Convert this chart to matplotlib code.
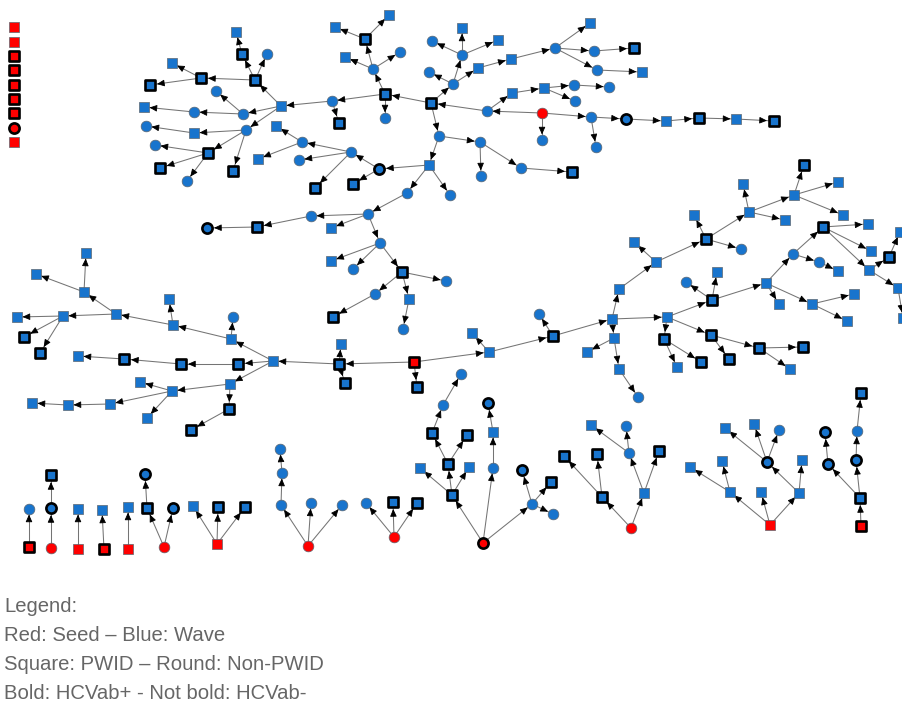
import numpy as np
import matplotlib
matplotlib.use("Agg")
import matplotlib.pyplot as plt

# Each node: (name, x_px, y_px, shape, role, hcv_positive, parent)
# shape: "sq" = PWID (square), "ci" = Non-PWID (round); role: "S" seed (red), "W" wave (blue)

isolated_seeds = [
    ("i1", 14, 27, "sq", "S", 0, None),
    ("i2", 14, 42, "sq", "S", 0, None),
    ("i3", 14, 56, "sq", "S", 1, None),
    ("i4", 14, 70, "sq", "S", 1, None),
    ("i5", 14, 85, "sq", "S", 1, None),
    ("i6", 14, 99, "sq", "S", 1, None),
    ("i7", 14, 113, "sq", "S", 1, None),
    ("i8", 14, 128, "ci", "S", 1, None),
    ("i9", 14, 142, "sq", "S", 0, None),
]

tree_top = [
    ("R1", 542, 113, "ci", "S", 0, None),
    ("a1", 487, 111, "ci", "W", 0, "R1"),
    ("a2", 542, 140, "ci", "W", 0, "R1"),
    ("a3", 591, 117, "ci", "W", 0, "R1"),
    ("a4", 626, 119, "ci", "W", 1, "a3"),
    ("a5", 596, 147, "ci", "W", 0, "a3"),
    ("a6", 666, 121, "sq", "W", 0, "a4"),
    ("a7", 699, 118, "sq", "W", 1, "a6"),
    ("a8", 736, 119, "sq", "W", 0, "a7"),
    ("a9", 774, 121, "sq", "W", 1, "a8"),
    ("b1", 512, 93, "sq", "W", 0, "a1"),
    ("b2", 544, 88, "sq", "W", 0, "b1"),
    ("b3", 574, 85, "ci", "W", 0, "b2"),
    ("b4", 609, 87, "ci", "W", 0, "b3"),
    ("b5", 575, 101, "ci", "W", 0, "b2"),
    ("c0", 431, 103, "sq", "W", 1, "a1"),
    ("c1", 453, 84, "ci", "W", 0, "c0"),
    ("c2", 429, 72, "ci", "W", 0, "c1"),
    ("c3", 462, 55, "ci", "W", 0, "c1"),
    ("c4", 462, 28, "sq", "W", 0, "c3"),
    ("c5", 498, 40, "sq", "W", 0, "c3"),
    ("c6", 432, 41, "ci", "W", 0, "c3"),
    ("c7", 478, 68, "sq", "W", 0, "c1"),
    ("c8", 511, 59, "sq", "W", 0, "c7"),
    ("c9", 555, 48, "ci", "W", 0, "c8"),
    ("c10", 590, 23, "sq", "W", 0, "c9"),
    ("c11", 594, 51, "ci", "W", 0, "c9"),
    ("c12", 634, 48, "sq", "W", 1, "c11"),
    ("c13", 597, 70, "ci", "W", 0, "c9"),
    ("c14", 642, 72, "sq", "W", 0, "c13"),
    ("d0", 385, 94, "sq", "W", 1, "c0"),
    ("d1", 385, 118, "ci", "W", 0, "d0"),
    ("d2", 373, 69, "ci", "W", 0, "d0"),
    ("d3", 345, 57, "sq", "W", 0, "d2"),
    ("d4", 400, 52, "ci", "W", 0, "d2"),
    ("d5", 365, 39, "sq", "W", 1, "d2"),
    ("d6", 335, 27, "sq", "W", 0, "d5"),
    ("d7", 389, 15, "sq", "W", 0, "d5"),
    ("e0", 332, 101, "ci", "W", 0, "d0"),
    ("e1", 339, 123, "sq", "W", 1, "e0"),
    ("H", 281, 106, "sq", "W", 0, "e0"),
    ("f1", 255, 80, "sq", "W", 1, "H"),
    ("f2", 242, 54, "sq", "W", 1, "f1"),
    ("f3", 236, 32, "sq", "W", 0, "f2"),
    ("f4", 267, 54, "ci", "W", 0, "f1"),
    ("f5", 201, 78, "sq", "W", 1, "f1"),
    ("f6", 172, 63, "sq", "W", 0, "f5"),
    ("f7", 150, 85, "sq", "W", 1, "f5"),
    ("g1", 243, 114, "ci", "W", 0, "H"),
    ("g2", 216, 91, "ci", "W", 0, "g1"),
    ("g3", 194, 112, "ci", "W", 0, "g1"),
    ("g4", 144, 107, "sq", "W", 0, "g3"),
    ("h1", 246, 130, "ci", "W", 0, "H"),
    ("h2", 194, 133, "sq", "W", 0, "h1"),
    ("h3", 146, 126, "ci", "W", 0, "h2"),
    ("h4", 208, 153, "sq", "W", 1, "h1"),
    ("h5", 155, 145, "ci", "W", 0, "h4"),
    ("h6", 160, 168, "sq", "W", 1, "h4"),
    ("h7", 187, 181, "ci", "W", 0, "h4"),
    ("h8", 233, 171, "sq", "W", 1, "h1"),
    ("j0", 439, 136, "ci", "W", 0, "c0"),
    ("j1", 480, 142, "ci", "W", 0, "j0"),
    ("j2", 481, 176, "ci", "W", 0, "j1"),
    ("j3", 521, 168, "ci", "W", 0, "j1"),
    ("j4", 572, 172, "sq", "W", 1, "j3"),
    ("k0", 429, 165, "sq", "W", 0, "j0"),
    ("k1", 379, 169, "ci", "W", 1, "k0"),
    ("k2", 351, 152, "ci", "W", 0, "k1"),
    ("k3", 302, 142, "ci", "W", 0, "k2"),
    ("k4", 276, 126, "sq", "W", 0, "k3"),
    ("k5", 258, 159, "sq", "W", 0, "k3"),
    ("k6", 299, 160, "ci", "W", 0, "k2"),
    ("k7", 315, 188, "sq", "W", 1, "k2"),
    ("k8", 353, 184, "sq", "W", 1, "k1"),
    ("l0", 407, 193, "ci", "W", 0, "k0"),
    ("l1", 450, 195, "ci", "W", 0, "k0"),
    ("m0", 368, 214, "ci", "W", 0, "l0"),
    ("m1", 311, 216, "ci", "W", 0, "m0"),
    ("m2", 257, 227, "sq", "W", 1, "m1"),
    ("m3", 207, 228, "ci", "W", 1, "m2"),
    ("m4", 331, 228, "sq", "W", 0, "m0"),
    ("n0", 380, 243, "ci", "W", 0, "m0"),
    ("n1", 331, 261, "sq", "W", 0, "n0"),
    ("n2", 353, 269, "ci", "W", 0, "n0"),
    ("n3", 402, 272, "sq", "W", 1, "n0"),
    ("n4", 446, 281, "ci", "W", 0, "n3"),
    ("n5", 375, 294, "ci", "W", 0, "n3"),
    ("n6", 333, 317, "sq", "W", 1, "n5"),
    ("n7", 409, 299, "sq", "W", 0, "n3"),
    ("n8", 403, 329, "ci", "W", 0, "n7"),
]

tree_mid = [
    ("R2", 414, 362, "sq", "S", 1, None),
    ("p0", 339, 364, "sq", "W", 1, "R2"),
    ("p1", 341, 344, "sq", "W", 0, "p0"),
    ("p2", 345, 383, "sq", "W", 1, "p0"),
    ("p3", 417, 387, "sq", "W", 1, "R2"),
    ("P", 273, 361, "sq", "W", 0, "p0"),
    ("q1", 231, 339, "sq", "W", 0, "P"),
    ("q2", 233, 317, "ci", "W", 0, "q1"),
    ("q3", 173, 325, "sq", "W", 0, "q1"),
    ("q4", 169, 299, "sq", "W", 0, "q3"),
    ("q5", 116, 314, "sq", "W", 0, "q3"),
    ("q6", 63, 316, "sq", "W", 0, "q5"),
    ("q7", 17, 317, "sq", "W", 0, "q6"),
    ("q8", 24, 337, "sq", "W", 1, "q6"),
    ("q9", 40, 353, "sq", "W", 1, "q6"),
    ("q10", 84, 292, "sq", "W", 0, "q5"),
    ("q11", 86, 253, "sq", "W", 0, "q10"),
    ("q12", 36, 274, "sq", "W", 0, "q10"),
    ("r1", 238, 364, "sq", "W", 1, "P"),
    ("r2", 181, 364, "sq", "W", 1, "r1"),
    ("r3", 124, 359, "sq", "W", 1, "r2"),
    ("r4", 78, 356, "sq", "W", 0, "r3"),
    ("s1", 230, 384, "sq", "W", 0, "P"),
    ("s2", 172, 391, "sq", "W", 0, "s1"),
    ("s3", 140, 382, "sq", "W", 0, "s2"),
    ("s4", 147, 418, "sq", "W", 0, "s2"),
    ("s5", 110, 404, "sq", "W", 0, "s2"),
    ("s6", 68, 405, "sq", "W", 0, "s5"),
    ("s7", 32, 403, "sq", "W", 0, "s6"),
    ("s8", 229, 409, "sq", "W", 1, "s1"),
    ("s9", 191, 430, "sq", "W", 1, "s8"),
    ("t1", 489, 352, "sq", "W", 0, "R2"),
    ("t2", 472, 333, "sq", "W", 0, "t1"),
    ("t3", 553, 336, "sq", "W", 1, "t1"),
    ("t4", 539, 314, "ci", "W", 0, "t3"),
    ("T", 612, 319, "sq", "W", 0, "t3"),
    ("u1", 619, 289, "sq", "W", 0, "T"),
    ("u2", 656, 262, "sq", "W", 0, "u1"),
    ("u3", 634, 242, "sq", "W", 0, "u2"),
    ("v0", 706, 239, "sq", "W", 1, "u2"),
    ("v1", 694, 215, "sq", "W", 0, "v0"),
    ("v2", 741, 249, "ci", "W", 0, "v0"),
    ("v3", 749, 212, "sq", "W", 0, "v0"),
    ("v4", 743, 184, "sq", "W", 0, "v3"),
    ("v5", 785, 220, "sq", "W", 0, "v3"),
    ("v6", 794, 195, "sq", "W", 0, "v3"),
    ("v7", 804, 165, "sq", "W", 1, "v6"),
    ("v8", 838, 182, "sq", "W", 0, "v6"),
    ("v9", 843, 215, "sq", "W", 0, "v6"),
    ("w1", 614, 338, "sq", "W", 0, "T"),
    ("w2", 587, 352, "sq", "W", 0, "w1"),
    ("w3", 619, 369, "sq", "W", 0, "w1"),
    ("w4", 638, 397, "ci", "W", 0, "w3"),
    ("U", 667, 317, "sq", "W", 0, "T"),
    ("x1", 712, 300, "sq", "W", 1, "U"),
    ("x2", 717, 272, "sq", "W", 0, "x1"),
    ("x3", 686, 282, "ci", "W", 0, "x1"),
    ("x4", 766, 283, "sq", "W", 0, "x1"),
    ("x5", 779, 304, "sq", "W", 0, "x4"),
    ("x6", 812, 304, "sq", "W", 0, "x4"),
    ("x7", 854, 294, "sq", "W", 0, "x6"),
    ("x8", 847, 321, "sq", "W", 0, "x6"),
    ("x9", 793, 254, "ci", "W", 0, "x4"),
    ("x10", 819, 262, "ci", "W", 0, "x9"),
    ("x11", 838, 271, "sq", "W", 0, "x10"),
    ("x12", 823, 227, "sq", "W", 1, "x9"),
    ("x13", 868, 224, "sq", "W", 0, "x12"),
    ("x14", 871, 251, "sq", "W", 0, "x12"),
    ("x15", 869, 270, "sq", "W", 0, "x12"),
    ("x16", 889, 257, "sq", "W", 1, "x15"),
    ("x17", 900, 232, "sq", "W", 0, "x16"),
    ("x18", 898, 288, "sq", "W", 0, "x15"),
    ("x19", 903, 318, "sq", "W", 0, "x18"),
    ("y1", 664, 339, "sq", "W", 1, "U"),
    ("y2", 677, 367, "sq", "W", 0, "y1"),
    ("y3", 701, 362, "sq", "W", 1, "y1"),
    ("y4", 711, 335, "sq", "W", 1, "U"),
    ("y5", 729, 359, "sq", "W", 1, "y4"),
    ("y6", 759, 348, "sq", "W", 1, "y4"),
    ("y7", 803, 347, "sq", "W", 1, "y6"),
    ("y8", 790, 369, "sq", "W", 0, "y6"),
]

small_trees = [
    ("z1", 29, 547, "sq", "S", 1, None),
    ("z1a", 29, 509, "ci", "W", 0, "z1"),
    ("z2", 51, 548, "ci", "S", 0, None),
    ("z2a", 51, 508, "ci", "W", 1, "z2"),
    ("z2b", 51, 475, "sq", "W", 1, "z2a"),
    ("z3", 78, 549, "sq", "S", 0, None),
    ("z3a", 78, 509, "sq", "W", 0, "z3"),
    ("z4", 104, 549, "sq", "S", 1, None),
    ("z4a", 102, 510, "sq", "W", 0, "z4"),
    ("z5", 128, 549, "sq", "S", 0, None),
    ("z5a", 128, 507, "sq", "W", 0, "z5"),
    ("z6", 164, 547, "ci", "S", 0, None),
    ("z6a", 147, 508, "sq", "W", 1, "z6"),
    ("z6b", 145, 474, "ci", "W", 1, "z6a"),
    ("z6c", 173, 508, "ci", "W", 1, "z6"),
    ("z7", 217, 544, "sq", "S", 0, None),
    ("z7a", 193, 506, "sq", "W", 0, "z7"),
    ("z7b", 218, 507, "sq", "W", 1, "z7"),
    ("z7c", 245, 507, "sq", "W", 1, "z7"),
    ("z8", 308, 546, "ci", "S", 0, None),
    ("z8a", 281, 505, "ci", "W", 0, "z8"),
    ("z8b", 282, 473, "ci", "W", 0, "z8a"),
    ("z8c", 280, 449, "ci", "W", 0, "z8b"),
    ("z8d", 311, 503, "ci", "W", 0, "z8"),
    ("z8e", 342, 505, "ci", "W", 0, "z8"),
    ("z9", 394, 537, "ci", "S", 0, None),
    ("z9a", 366, 503, "ci", "W", 0, "z9"),
    ("z9b", 393, 502, "sq", "W", 1, "z9"),
    ("z9c", 417, 503, "sq", "W", 1, "z9"),
]

tree_low = [
    ("Z10", 483, 543, "ci", "S", 1, None),
    ("aa1", 452, 495, "sq", "W", 1, "Z10"),
    ("aa2", 448, 464, "sq", "W", 1, "aa1"),
    ("aa3", 432, 433, "sq", "W", 1, "aa2"),
    ("aa4", 443, 405, "ci", "W", 0, "aa3"),
    ("aa5", 461, 374, "ci", "W", 0, "aa4"),
    ("aa6", 420, 468, "sq", "W", 0, "aa1"),
    ("aa7", 469, 467, "sq", "W", 0, "aa1"),
    ("aa8", 467, 435, "sq", "W", 1, "aa2"),
    ("ab1", 493, 468, "ci", "W", 0, "Z10"),
    ("ab2", 493, 432, "sq", "W", 0, "ab1"),
    ("ab3", 488, 403, "ci", "W", 1, "ab2"),
    ("ac1", 532, 504, "ci", "W", 0, "Z10"),
    ("ac2", 522, 470, "ci", "W", 1, "ac1"),
    ("ac3", 551, 482, "sq", "W", 1, "ac1"),
    ("ac4", 553, 514, "ci", "W", 0, "ac1"),
    ("Z11", 631, 528, "ci", "S", 0, None),
    ("ad1", 602, 497, "sq", "W", 1, "Z11"),
    ("ad2", 564, 456, "sq", "W", 1, "ad1"),
    ("ad3", 597, 454, "sq", "W", 1, "ad1"),
    ("ae1", 644, 493, "sq", "W", 0, "Z11"),
    ("ae2", 629, 453, "ci", "W", 0, "ae1"),
    ("ae3", 591, 425, "sq", "W", 0, "ae2"),
    ("ae4", 626, 426, "ci", "W", 0, "ae2"),
    ("ae5", 659, 451, "sq", "W", 1, "ae1"),
    ("Z12", 770, 525, "sq", "S", 0, None),
    ("af1", 730, 492, "sq", "W", 0, "Z12"),
    ("af2", 690, 467, "sq", "W", 0, "af1"),
    ("af3", 722, 461, "sq", "W", 0, "af1"),
    ("af4", 761, 492, "sq", "W", 0, "Z12"),
    ("ag1", 799, 493, "sq", "W", 0, "Z12"),
    ("ag2", 767, 462, "ci", "W", 1, "ag1"),
    ("ag3", 725, 428, "sq", "W", 0, "ag2"),
    ("ag4", 754, 424, "sq", "W", 0, "ag2"),
    ("ag5", 779, 430, "ci", "W", 0, "ag2"),
    ("ag6", 802, 460, "sq", "W", 0, "ag1"),
    ("Z13", 861, 526, "sq", "S", 1, None),
    ("ah1", 860, 498, "sq", "W", 1, "Z13"),
    ("ah2", 828, 464, "ci", "W", 1, "ah1"),
    ("ah3", 825, 432, "ci", "W", 1, "ah2"),
    ("ah4", 856, 460, "ci", "W", 1, "ah1"),
    ("ah5", 857, 431, "ci", "W", 0, "ah4"),
    ("ah6", 861, 393, "sq", "W", 1, "ah5"),
]

legend_lines = [
    "Legend:",
    "Red: Seed \u2013 Blue: Wave",
    "Square: PWID \u2013 Round: Non-PWID",
    "Bold: HCVab+ - Not bold: HCVab-",
]

# ---------------------------------------------------------------
nodes = isolated_seeds + tree_top + tree_mid + small_trees + tree_low
pos = {n[0]: (n[1], n[2]) for n in nodes}

W, H_ = 902, 703
fig = plt.figure(figsize=(W / 100, H_ / 100), dpi=100)
ax = fig.add_axes([0, 0, 1, 1])
ax.set_xlim(0, W)
ax.set_ylim(H_, 0)
ax.axis("off")

BLUE = "#1874CD"
RED = "#FF0000"

# edges
for name, x, y, shape, role, hcv, parent in nodes:
    if parent is None:
        continue
    px, py = pos[parent]
    ax.plot([px, x], [py, y], color="#747474", lw=0.75, zorder=1,
            solid_capstyle="butt")
    d = np.array([x - px, y - py], dtype=float)
    d /= np.hypot(*d)
    r = 7.0 if hcv else 5.5
    tip = np.array([x, y]) - d * r
    start = tip - d * 6
    ax.annotate("", xy=tuple(tip), xytext=tuple(start),
                arrowprops=dict(arrowstyle="-|>,head_length=0.45,head_width=0.2",
                                color="black", lw=0.6, shrinkA=0, shrinkB=0,
                                mutation_scale=10),
                zorder=2)

# nodes
for shape, marker, size in (("sq", "s", 46), ("ci", "o", 54)):
    for role, col in (("S", RED), ("W", BLUE)):
        for hcv in (0, 1):
            sel = [n for n in nodes if n[3] == shape and n[4] == role and n[5] == hcv]
            if not sel:
                continue
            xs = [n[1] for n in sel]
            ys = [n[2] for n in sel]
            if hcv:
                ax.scatter(xs, ys, s=size, marker=marker, c=col,
                           edgecolors="black", linewidths=1.9, zorder=3)
            else:
                ax.scatter(xs, ys, s=size * 1.1, marker=marker, c=col,
                           edgecolors="#5c6670", linewidths=0.5, zorder=3)

# legend text
for i, line in enumerate(legend_lines):
    ax.text(4, 606 + i * 29.2, line, fontsize=14.6, color="#666666",
            family=["Liberation Sans", "DejaVu Sans"], va="center", ha="left")

fig.savefig("out.png", dpi=100)
